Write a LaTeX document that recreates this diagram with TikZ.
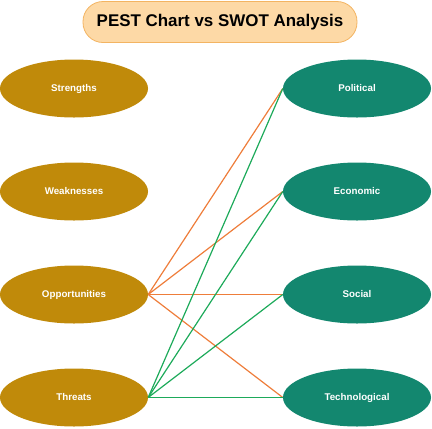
\documentclass[tikz,border=0pt]{standalone}
\usepackage{fontspec}
\setmainfont{Liberation Sans}
\usetikzlibrary{positioning,shapes.geometric}
\definecolor{swotgold}{HTML}{C08A0A}
\definecolor{pestgreen}{HTML}{13876F}
\definecolor{titlefill}{HTML}{FDD9A6}
\definecolor{titleline}{HTML}{F3B462}
\definecolor{oppline}{HTML}{EE7D3A}
\definecolor{thrline}{HTML}{1DAA5A}

\begin{document}
\begin{tikzpicture}[x=1bp,y=-1bp,
    swot/.style={ellipse, fill=swotgold, minimum width=148bp, minimum height=58bp,
        inner sep=0pt, text=white, font=\bfseries\fontsize{9.8}{11}\selectfont},
    pest/.style={swot, fill=pestgreen},
    headbox/.style={rectangle, rounded corners=20bp, fill=titlefill, draw=titleline,
        line width=0.8bp, minimum width=274bp, minimum height=41bp,
        font=\bfseries\fontsize{17}{20}\selectfont}]
\useasboundingbox (0,0) rectangle (432,429);

% Title
\node[headbox] (title) at (220,22) {PEST Chart vs SWOT Analysis};

% SWOT side
\node[swot] (str) at (74,88.5) {Strengths};
\node[swot] (wea) at (74,191.5) {Weaknesses};
\node[swot] (opp) at (74,294.5) {Opportunities};
\node[swot] (thr) at (74,397.5) {Threats};

% PEST side
\node[pest] (pol) at (357,88.5) {Political};
\node[pest] (eco) at (357,191.5) {Economic};
\node[pest] (soc) at (357,294.5) {Social};
\node[pest] (tec) at (357,397.5) {Technological};

% Links
\foreach \p in {pol,eco,soc,tec}
    \draw[oppline, line width=1.2bp] (opp.east) -- (\p.west);
\foreach \p in {pol,eco,soc,tec}
    \draw[thrline, line width=1.2bp] (thr.east) -- (\p.west);
\end{tikzpicture}
\end{document}
